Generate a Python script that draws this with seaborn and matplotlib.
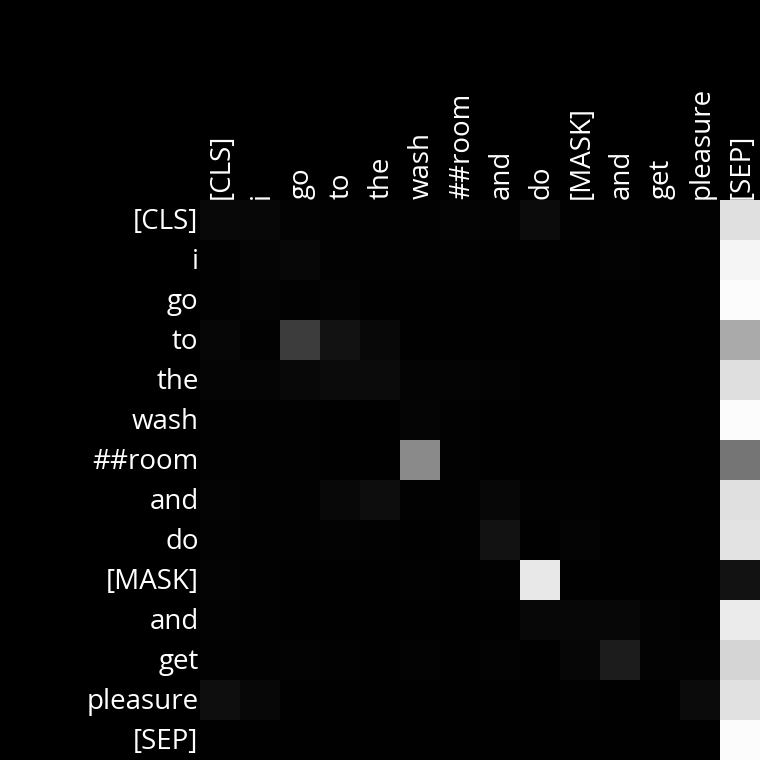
import numpy as np
import pandas as pd
import matplotlib
matplotlib.use("Agg")
import matplotlib.pyplot as plt
import matplotlib.transforms as mtransforms
import seaborn as sns

tokens = ["[CLS]", "i", "go", "to", "the", "wash", "##room", "and", "do",
          "[MASK]", "and", "get", "pleasure", "[SEP]"]

# attention weights per row (query token), read as grey levels / 255
row_cls      = [8, 7, 3, 2, 2, 2, 4, 3, 11, 2, 2, 2, 2, 224]
row_i        = [2, 5, 7, 2, 2, 2, 2, 1, 1, 1, 3, 1, 1, 245]
row_go       = [2, 4, 2, 4, 1, 1, 1, 1, 1, 1, 1, 1, 1, 252]
row_to       = [6, 2, 60, 18, 8, 1, 1, 1, 1, 1, 1, 1, 1, 170]
row_the      = [5, 5, 8, 11, 11, 4, 4, 3, 1, 1, 1, 1, 1, 223]
row_wash     = [2, 2, 2, 1, 1, 5, 2, 1, 1, 1, 1, 1, 1, 252]
row_room     = [2, 2, 2, 1, 1, 138, 2, 1, 1, 1, 1, 1, 1, 117]
row_and1     = [4, 2, 2, 8, 13, 2, 2, 7, 2, 2, 1, 1, 1, 224]
row_do       = [3, 2, 2, 3, 2, 1, 2, 18, 1, 4, 1, 1, 1, 227]
row_mask     = [4, 2, 1, 1, 1, 2, 1, 2, 232, 1, 1, 1, 1, 18]
row_and2     = [3, 2, 1, 1, 1, 1, 1, 1, 7, 7, 7, 3, 1, 235]
row_get      = [2, 2, 3, 2, 1, 3, 1, 3, 1, 6, 28, 3, 3, 213]
row_pleasure = [14, 7, 1, 1, 1, 1, 1, 1, 1, 2, 1, 1, 11, 225]
row_sep      = [1, 1, 1, 1, 1, 1, 1, 1, 1, 1, 1, 1, 1, 252]

rows = [row_cls, row_i, row_go, row_to, row_the, row_wash, row_room,
        row_and1, row_do, row_mask, row_and2, row_get, row_pleasure, row_sep]

data = np.array(rows, dtype=float) / 255.0
df = pd.DataFrame(data, index=tokens, columns=tokens)

plt.rcParams['font.family'] = ['Open Sans', 'DejaVu Sans']

fig = plt.figure(figsize=(7.6, 7.6), dpi=100, facecolor="black")
ax = fig.add_axes([200 / 760, 0, 560 / 760, 560 / 760])
ax.set_facecolor("black")

sns.heatmap(df, ax=ax, cmap="gray", vmin=0, vmax=1, cbar=False,
            square=False, linewidths=0)

ax.xaxis.tick_top()
ax.tick_params(axis="both", length=0, pad=1, colors="white", labelsize=20)
ax.set_xticklabels(tokens, rotation=90, ha="center", va="bottom", color="white")
ax.set_yticklabels(tokens, rotation=0, ha="right", va="center", color="white")

dx = mtransforms.ScaledTranslation(2 / 100, 0, fig.dpi_scale_trans)
dy = mtransforms.ScaledTranslation(0, -2 / 100, fig.dpi_scale_trans)
for lbl in ax.get_xticklabels():
    lbl.set_transform(lbl.get_transform() + dx)
for lbl in ax.get_yticklabels():
    lbl.set_transform(lbl.get_transform() + dy)

ax.set_xlabel("")
ax.set_ylabel("")
for s in ax.spines.values():
    s.set_visible(False)

fig.savefig("out.png", dpi=100, facecolor="black")
